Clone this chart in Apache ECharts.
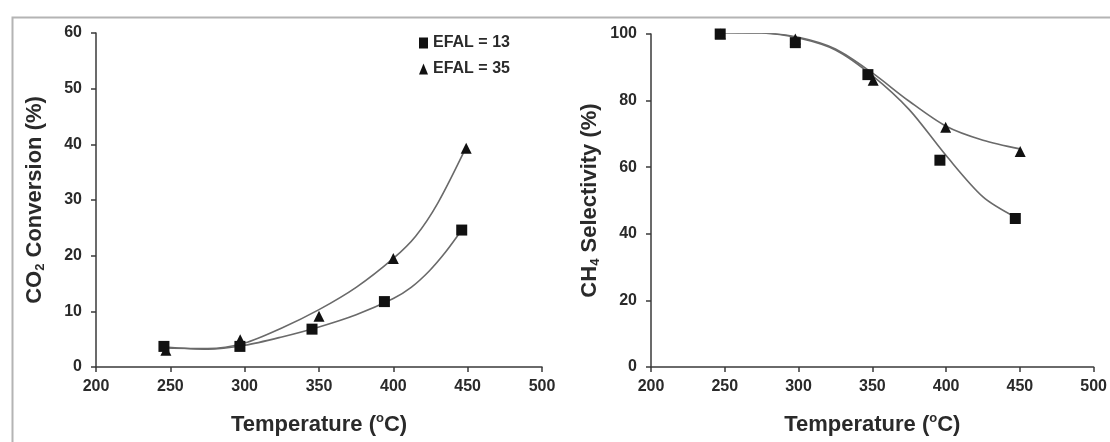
<!DOCTYPE html>
<html>
<head>
<meta charset="utf-8">
<script src="https://cdn.jsdelivr.net/npm/echarts@6/dist/echarts.min.js"></script>
<style>
html,body{margin:0;padding:0;background:#fff;}
#c{width:1110px;height:442px;}
</style>
</head>
<body>
<div id="c"></div>
<script>
// ---- data ----
var xTicks = [200, 250, 300, 350, 400, 450, 500];
var seriesNames = ['EFAL = 13', 'EFAL = 35'];

// Left panel: CO2 conversion (%)
var convTemp13 = [245.7, 296.8, 345.3, 394, 446];
var conv13 = [3.7, 3.7, 6.8, 11.75, 24.6];
var convTemp35 = [247, 297, 350, 400, 449];
var conv35 = [3.0, 4.9, 9.1, 19.5, 39.3];
// trend curves
var convFitTemp13 = [246, 275, 300, 325, 350, 375, 400, 412, 424, 435, 446];
var convFit13 = [3.6, 3.2, 3.9, 5.4, 7.2, 9.4, 12.3, 14.3, 17.2, 20.6, 24.6];
var convFitTemp35 = [247, 275, 300, 325, 350, 375, 400, 415, 430, 449];
var convFit35 = [3.4, 3.3, 4.3, 7.0, 10.3, 14.3, 19.5, 23.5, 29.5, 39.5];

// Right panel: CH4 selectivity (%)
var selTemp13 = [246.9, 297.8, 347, 395.8, 446.9];
var sel13 = [100, 97.4, 87.8, 62.1, 44.6];
var selTemp35 = [247, 297.8, 350.6, 399.7, 450.2];
var sel35 = [100, 98.5, 86.1, 72.0, 64.7];
var selFitTemp13 = [247, 275, 300, 325, 350, 375, 400, 425, 447];
var selFit13 = [100.4, 100.3, 98.8, 95.2, 87.5, 77.3, 63.5, 51.1, 45.0];
var selFitTemp35 = [247, 275, 300, 325, 350, 375, 400, 425, 450];
var selFit35 = [100.4, 100.3, 99.0, 95.5, 88.3, 79.8, 72.3, 68.1, 65.5];

function zip(a, b) { return a.map(function (v, i) { return [v, b[i]]; }); }

var FONT = "'Liberation Sans', Arial, sans-serif";
var AX = '#3a3a3a';
var LINE = '#6a6a6a';
var MARK = '#111';

var nameStyle = {
  fontFamily: FONT, fontSize: 22, fontWeight: 'bold', color: '#2a2a2a', lineHeight: 25,
  rich: {
    sup: { fontFamily: FONT, fontSize: 13, fontWeight: 'bold', color: '#2a2a2a', verticalAlign: 'top', lineHeight: 13 },
    sub: { fontFamily: FONT, fontSize: 13, fontWeight: 'bold', color: '#2a2a2a', verticalAlign: 'bottom', lineHeight: 13 }
  }
};
var labelStyle = { fontFamily: FONT, fontSize: 16, fontWeight: 'bold', color: '#2a2a2a' };

function xAxis(gi) {
  return {
    type: 'value', gridIndex: gi, min: 200, max: 500, interval: 50,
    name: 'Temperature ({sup|o}C)', nameLocation: 'middle', nameGap: 45,
    nameTextStyle: nameStyle,
    axisLine: { show: true, lineStyle: { color: AX, width: 1.5 } },
    axisTick: { show: true, length: 5, lineStyle: { color: AX, width: 1.5 } },
    axisLabel: Object.assign({ margin: 12 }, labelStyle),
    splitLine: { show: false }
  };
}
function yAxis(gi, max, interval, name) {
  return {
    type: 'value', gridIndex: gi, min: 0, max: max, interval: interval,
    name: name, nameLocation: 'middle', nameGap: 49, nameRotate: 90,
    nameTextStyle: nameStyle,
    axisLine: { show: true, lineStyle: { color: AX, width: 1.5 } },
    axisTick: { show: true, length: 5, lineStyle: { color: AX, width: 1.5 } },
    axisLabel: Object.assign({ margin: 14 }, labelStyle),
    splitLine: { show: false }
  };
}
function fit(name, xi, data) {
  return {
    name: name, type: 'line', xAxisIndex: xi, yAxisIndex: xi, data: data,
    smooth: 0.3, showSymbol: false, symbol: 'none', silent: true, z: 2,
    lineStyle: { color: LINE, width: 1.6 }
  };
}
function pts(name, xi, data, sym, size) {
  return {
    name: name, type: 'scatter', xAxisIndex: xi, yAxisIndex: xi, data: data,
    symbol: sym, symbolSize: size, z: 3,
    itemStyle: { color: MARK, opacity: 1 }
  };
}

var chart = echarts.init(document.getElementById('c'), null, { renderer: 'canvas' });
chart.setOption({
  animation: false,
  backgroundColor: '#fff',
  graphic: [{
    type: 'rect', left: 10, top: 15, shape: { width: 1120, height: 450 },
    style: { fill: 'none', stroke: '#b4b4b4', lineWidth: 2 }, z: -10
  }],
  legend: {
    show: true, orient: 'vertical', left: 414, top: 30, itemGap: 10,
    itemWidth: 9, itemHeight: 11,
    textStyle: { fontFamily: FONT, fontSize: 16, fontWeight: 'bold', color: '#2a2a2a' },
    data: [{ name: seriesNames[0], icon: 'rect' }, { name: seriesNames[1], icon: 'triangle' }]
  },
  grid: [
    { left: 96, top: 33, width: 446, height: 342 },
    { left: 651, top: 34, width: 446, height: 343 }
  ],
  xAxis: [xAxis(0), xAxis(1)],
  yAxis: [
    yAxis(0, 60, 10, 'CO{sub|2} Conversion (%)'),
    yAxis(1, 100, 20, 'CH{sub|4} Selectivity (%)')
  ],
  series: [
    fit('fitConv13', 0, zip(convFitTemp13, convFit13)),
    fit('fitConv35', 0, zip(convFitTemp35, convFit35)),
    fit('fitSel13', 1, zip(selFitTemp13, selFit13)),
    fit('fitSel35', 1, zip(selFitTemp35, selFit35)),
    pts(seriesNames[0], 0, zip(convTemp13, conv13), 'rect', 11),
    pts(seriesNames[1], 0, zip(convTemp35, conv35), 'triangle', 11),
    pts(seriesNames[0], 1, zip(selTemp13, sel13), 'rect', 11),
    pts(seriesNames[1], 1, zip(selTemp35, sel35), 'triangle', 11)
  ]
});
</script>
</body>
</html>
